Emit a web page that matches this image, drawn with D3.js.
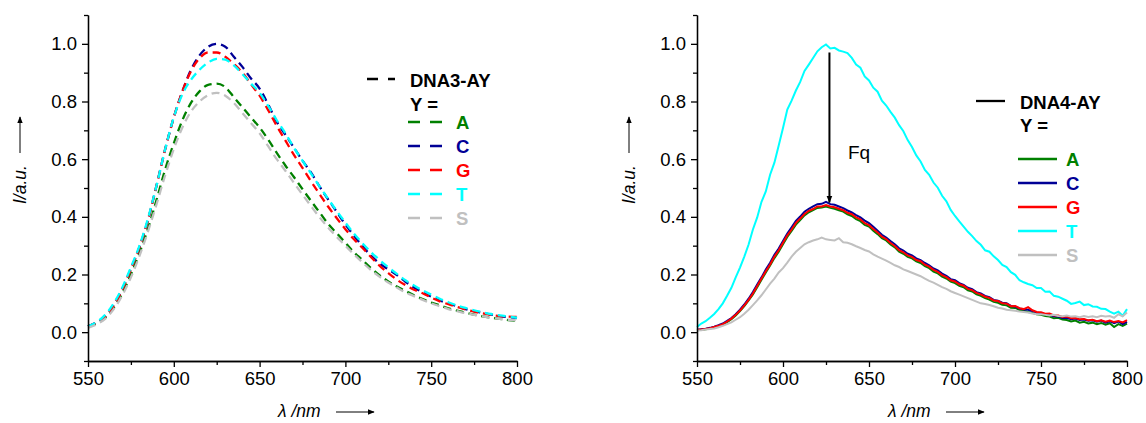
<!DOCTYPE html>
<html>
<head>
<meta charset="utf-8">
<script src="https://cdn.jsdelivr.net/npm/d3@7"></script>
<style>
  body { margin: 0; background: #fff; }
  svg { display: block; font-family: Arial, "Liberation Sans", sans-serif; }
  .domain, .tick line { stroke: #000; stroke-width: 1.3px; }
</style>
</head>
<body>
<svg id="chart" width="1146" height="423"></svg>
<script>
// series order = legend order
const bases = ['A', 'C', 'G', 'T', 'S'];
const colors = ['#008000', '#000096', '#ff0000', '#00ffff', '#c0c0c0'];
const xTicks = [550, 600, 650, 700, 750, 800];
const yTicks = [0, 0.2, 0.4, 0.6, 0.8, 1.0];

// DNA3-AY (left panel), 550..800 nm every 5 nm
const nmLeft = d3.range(550, 800.1, 5);
const dna3A = [0.02,0.03,0.05,0.085,0.135,0.2,0.275,0.36,0.46,0.565,0.655,0.735,0.795,0.835,0.858,0.862,0.85,0.815,0.78,0.745,0.71,0.668,0.622,0.578,0.538,0.496,0.455,0.415,0.375,0.343,0.31,0.277,0.25,0.222,0.197,0.176,0.158,0.143,0.128,0.115,0.103,0.093,0.083,0.075,0.068,0.061,0.055,0.05,0.046,0.042,0.04];
const dna3C = [0.02,0.035,0.055,0.095,0.15,0.22,0.295,0.39,0.51,0.635,0.745,0.835,0.91,0.96,0.99,1.0,0.99,0.955,0.92,0.88,0.845,0.79,0.73,0.685,0.64,0.595,0.553,0.505,0.46,0.417,0.373,0.335,0.298,0.265,0.238,0.218,0.198,0.175,0.155,0.138,0.123,0.11,0.1,0.09,0.08,0.073,0.067,0.061,0.056,0.052,0.049];
const dna3G = [0.02,0.033,0.055,0.093,0.148,0.218,0.295,0.39,0.51,0.635,0.745,0.835,0.905,0.95,0.97,0.97,0.955,0.93,0.9,0.86,0.82,0.77,0.715,0.665,0.615,0.57,0.523,0.478,0.435,0.395,0.357,0.322,0.292,0.26,0.23,0.205,0.182,0.163,0.147,0.135,0.12,0.107,0.097,0.088,0.079,0.071,0.065,0.06,0.056,0.054,0.053];
const dna3T = [0.02,0.035,0.06,0.1,0.155,0.225,0.3,0.395,0.51,0.635,0.745,0.825,0.875,0.91,0.935,0.948,0.945,0.925,0.895,0.862,0.83,0.785,0.735,0.69,0.64,0.595,0.55,0.505,0.462,0.42,0.38,0.342,0.308,0.277,0.25,0.225,0.202,0.18,0.162,0.145,0.13,0.116,0.104,0.093,0.084,0.076,0.069,0.063,0.058,0.054,0.05];
const dna3S = [0.015,0.027,0.046,0.08,0.128,0.19,0.265,0.35,0.445,0.545,0.635,0.71,0.765,0.8,0.822,0.83,0.82,0.795,0.76,0.725,0.69,0.645,0.6,0.56,0.518,0.477,0.437,0.398,0.362,0.33,0.3,0.27,0.242,0.215,0.192,0.172,0.155,0.138,0.125,0.112,0.1,0.09,0.08,0.073,0.066,0.06,0.055,0.05,0.046,0.043,0.042];

// DNA4-AY (right panel), 550..800 nm every 2.5 nm
const nmRight = d3.range(550, 800.1, 2.5);
const dna4A = [0.007,0.008,0.01,0.013,0.017,0.021,0.027,0.035,0.045,0.058,
  0.073,0.09,0.11,0.131,0.156,0.182,0.207,0.231,0.257,0.279,
  0.305,0.33,0.351,0.373,0.389,0.405,0.416,0.423,0.431,0.432,
  0.436,0.431,0.428,0.423,0.418,0.409,0.403,0.392,0.385,0.372,
  0.366,0.352,0.34,0.326,0.318,0.304,0.294,0.279,0.272,0.261,
  0.256,0.246,0.24,0.229,0.222,0.21,0.204,0.193,0.186,0.175,
  0.17,0.161,0.156,0.145,0.141,0.131,0.126,0.118,0.113,0.105,
  0.102,0.095,0.093,0.085,0.084,0.077,0.074,0.07,0.067,0.062,
  0.06,0.056,0.054,0.048,0.05,0.044,0.042,0.037,0.04,0.033,
  0.036,0.03,0.033,0.028,0.032,0.026,0.031,0.018,0.028,0.022,
  0.03];
const dna4C = [0.008,0.01,0.012,0.015,0.019,0.024,0.03,0.039,0.049,0.062,
  0.078,0.096,0.116,0.139,0.165,0.19,0.217,0.241,0.268,0.29,
  0.316,0.342,0.364,0.386,0.401,0.418,0.428,0.436,0.444,0.445,
  0.452,0.444,0.442,0.436,0.43,0.422,0.415,0.406,0.398,0.387,
  0.378,0.366,0.352,0.338,0.328,0.316,0.305,0.291,0.283,0.272,
  0.266,0.256,0.25,0.24,0.232,0.221,0.214,0.203,0.195,0.184,
  0.18,0.17,0.164,0.154,0.149,0.139,0.134,0.126,0.121,0.112,
  0.109,0.102,0.1,0.091,0.089,0.082,0.079,0.078,0.073,0.068,
  0.066,0.062,0.06,0.055,0.054,0.049,0.05,0.045,0.047,0.042,
  0.044,0.04,0.041,0.036,0.04,0.033,0.038,0.031,0.037,0.028,
  0.036];
const dna4G = [0.008,0.009,0.011,0.014,0.018,0.022,0.028,0.037,0.047,0.06,
  0.075,0.093,0.112,0.134,0.16,0.186,0.211,0.235,0.262,0.284,
  0.31,0.336,0.356,0.379,0.394,0.41,0.421,0.427,0.436,0.436,
  0.441,0.436,0.433,0.428,0.423,0.414,0.409,0.398,0.391,0.378,
  0.371,0.358,0.346,0.331,0.323,0.309,0.299,0.284,0.277,0.266,
  0.261,0.25,0.246,0.234,0.227,0.216,0.209,0.198,0.191,0.18,
  0.176,0.166,0.161,0.15,0.146,0.136,0.131,0.123,0.119,0.11,
  0.108,0.1,0.099,0.09,0.091,0.083,0.08,0.087,0.076,0.07,
  0.069,0.064,0.065,0.058,0.058,0.053,0.054,0.048,0.049,0.045,
  0.046,0.041,0.043,0.038,0.041,0.036,0.04,0.035,0.039,0.034,
  0.042];
const dna4T = [0.018,0.03,0.038,0.05,0.063,0.08,0.1,0.126,0.154,0.19,
  0.224,0.262,0.304,0.356,0.398,0.452,0.488,0.546,0.588,0.647,
  0.708,0.772,0.803,0.838,0.868,0.906,0.928,0.951,0.974,0.988,
  0.998,0.984,0.986,0.977,0.973,0.968,0.951,0.928,0.917,0.887,
  0.873,0.848,0.834,0.803,0.786,0.764,0.744,0.718,0.697,0.666,
  0.642,0.613,0.592,0.563,0.546,0.519,0.501,0.473,0.454,0.424,
  0.403,0.384,0.366,0.348,0.333,0.316,0.303,0.284,0.279,0.263,
  0.25,0.233,0.226,0.208,0.199,0.18,0.173,0.167,0.163,0.153,
  0.153,0.14,0.141,0.126,0.123,0.116,0.109,0.098,0.101,0.106,
  0.094,0.097,0.089,0.088,0.081,0.08,0.071,0.064,0.071,0.057,
  0.08];
const dna4S = [0.006,0.007,0.009,0.011,0.013,0.017,0.022,0.028,0.034,0.043,
  0.052,0.064,0.078,0.094,0.11,0.128,0.148,0.168,0.186,0.207,
  0.222,0.241,0.262,0.279,0.292,0.305,0.312,0.318,0.322,0.328,
  0.322,0.32,0.318,0.326,0.312,0.31,0.305,0.298,0.292,0.285,
  0.28,0.27,0.262,0.255,0.248,0.24,0.232,0.226,0.218,0.212,
  0.206,0.2,0.194,0.186,0.178,0.172,0.164,0.156,0.15,0.142,
  0.136,0.13,0.124,0.118,0.112,0.106,0.1,0.098,0.094,0.09,
  0.085,0.082,0.078,0.076,0.074,0.072,0.07,0.068,0.065,0.062,
  0.062,0.06,0.058,0.06,0.056,0.055,0.058,0.054,0.055,0.052,
  0.056,0.053,0.055,0.052,0.057,0.054,0.056,0.05,0.062,0.055,
  0.068];

const svg = d3.select('#chart');

svg.append('defs').append('marker')
  .attr('id', 'head')
  .attr('viewBox', '0 0 10 10')
  .attr('refX', 9).attr('refY', 5)
  .attr('markerWidth', 7).attr('markerHeight', 7)
  .attr('markerUnits', 'userSpaceOnUse')
  .attr('orient', 'auto')
  .append('path').attr('d', 'M0,1 L10,5 L0,9 Z').attr('fill', '#000');

const y = d3.scaleLinear().domain([-0.1, 1.1]).range([361, 15]);

function drawPanel(opts) {
  const x = d3.scaleLinear().domain([550, 800]).range(opts.range);
  const g = svg.append('g');

  // curves
  const line = d3.line()
    .x(d => x(d[0]))
    .y(d => y(d[1]))
    .curve(opts.dashed ? d3.curveMonotoneX : d3.curveLinear);

  opts.series.forEach((vals, i) => {
    g.append('path')
      .datum(opts.nm.map((n, j) => [n, vals[j]]))
      .attr('d', line)
      .attr('fill', 'none')
      .attr('stroke', colors[i])
      .attr('stroke-width', opts.dashed ? 2.3 : 2)
      .attr('stroke-dasharray', opts.dashed ? '8,5' : null);
  });

  // axes: major + minor ticks
  const x0 = opts.range[0];
  g.append('g').attr('transform', `translate(0,${y(-0.1)})`)
    .call(d3.axisBottom(x).tickValues([575, 625, 675, 725, 775]).tickSize(4).tickSizeOuter(0).tickFormat(''));
  g.append('g').attr('transform', `translate(0,${y(-0.1)})`)
    .call(d3.axisBottom(x).tickValues(xTicks).tickSize(6).tickSizeOuter(0).tickPadding(5))
    .selectAll('text').style('font-size', '18.5px').attr('fill', '#000');
  g.append('g').attr('transform', `translate(${x0},0)`)
    .call(d3.axisLeft(y).tickValues([-0.1, 0.1, 0.3, 0.5, 0.7, 0.9, 1.1]).tickSize(4).tickSizeOuter(0).tickFormat(''));
  g.append('g').attr('transform', `translate(${x0},0)`)
    .call(d3.axisLeft(y).tickValues(yTicks).tickSize(6).tickSizeOuter(0).tickPadding(5).tickFormat(d3.format('.1f')))
    .selectAll('text').style('font-size', '18.5px').attr('fill', '#000');

  // axis titles with arrows
  const ly = x0 - 68;
  g.append('text')
    .attr('transform', `translate(${ly + 6},204) rotate(-90)`)
    .style('font-size', '17.5px').attr('font-style', 'italic')
    .text('I/a.u.');
  g.append('line')
    .attr('x1', ly).attr('x2', ly).attr('y1', 153).attr('y2', 117)
    .attr('stroke', '#000').attr('stroke-width', 1).attr('marker-end', 'url(#head)');

  const tx = opts.titleX;
  g.append('text')
    .attr('x', tx).attr('y', 417)
    .style('font-size', '17.5px').attr('font-style', 'italic')
    .text('\u03BB /nm');
  g.append('line')
    .attr('x1', tx + 58).attr('x2', tx + 96).attr('y1', 412).attr('y2', 412)
    .attr('stroke', '#000').attr('stroke-width', 1).attr('marker-end', 'url(#head)');

  // legend
  const L = opts.legend;
  g.append('line')
    .attr('x1', L.headX1).attr('x2', L.headX2).attr('y1', L.headY).attr('y2', L.headY)
    .attr('stroke', '#000').attr('stroke-width', 2.3)
    .attr('stroke-dasharray', opts.dashed ? '11,10' : null);
  g.append('text')
    .attr('x', L.textX).attr('y', L.headY + 8)
    .style('font-size', '18.5px').attr('font-weight', 'bold')
    .text(opts.name);
  g.append('text')
    .attr('x', L.textX).attr('y', L.yEqY)
    .style('font-size', '18.5px').attr('font-weight', 'bold')
    .text('Y =');
  bases.forEach((b, i) => {
    const yy = L.rowY + i * 24;
    g.append('line')
      .attr('x1', L.lineX1).attr('x2', L.lineX2).attr('y1', yy).attr('y2', yy)
      .attr('stroke', colors[i]).attr('stroke-width', 2.3)
      .attr('stroke-dasharray', opts.dashed ? '12,10' : null);
    g.append('text')
      .attr('x', L.letterX).attr('y', yy + 7)
      .style('font-size', '18.5px').attr('font-weight', 'bold')
      .attr('fill', colors[i])
      .text(b);
  });
  return x;
}

drawPanel({
  range: [88, 517], nm: nmLeft, series: [dna3A, dna3C, dna3G, dna3T, dna3S],
  dashed: true, name: 'DNA3-AY', titleX: 278,
  legend: { headX1: 367, headX2: 395, headY: 79, textX: 410, yEqY: 111,
            rowY: 122, lineX1: 408, lineX2: 442, letterX: 456 }
});

const xR = drawPanel({
  range: [697, 1127], nm: nmRight, series: [dna4A, dna4C, dna4G, dna4T, dna4S],
  dashed: false, name: 'DNA4-AY', titleX: 888,
  legend: { headX1: 976, headX2: 1005, headY: 101, textX: 1020, yEqY: 132,
            rowY: 159, lineX1: 1018, lineX2: 1057, letterX: 1066 }
});

// quenching arrow
svg.append('line')
  .attr('x1', xR(627)).attr('x2', xR(627)).attr('y1', y(0.97)).attr('y2', y(0.45))
  .attr('stroke', '#000').attr('stroke-width', 2)
  .attr('marker-end', 'url(#head)');
svg.append('text')
  .attr('x', 848).attr('y', 159)
  .style('font-size', '19px')
  .text('Fq');
</script>
</body>
</html>
